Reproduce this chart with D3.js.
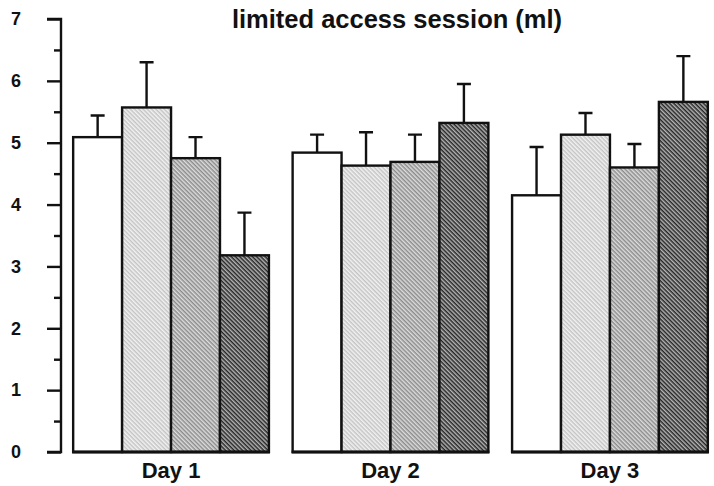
<!DOCTYPE html>
<html><head><meta charset="utf-8">
<script src="https://cdn.jsdelivr.net/npm/d3@7"></script>
<style>body{margin:0;background:#fff}svg{display:block}text{font-family:"Liberation Sans",Arial,sans-serif;font-weight:bold;fill:#111}</style>
</head><body>
<script>
const title = "limited access session (ml)";
const days = ["Day 1", "Day 2", "Day 3"];
const groups = ["g1", "g2", "g3", "g4"];
const means = [
  [5.09, 5.57, 4.75, 3.18],
  [4.84, 4.63, 4.69, 5.32],
  [4.15, 5.13, 4.60, 5.66]
];
const errTops = [
  [5.44, 6.30, 5.09, 3.87],
  [5.13, 5.17, 5.13, 5.95],
  [4.93, 5.48, 4.98, 6.40]
];
const yTicks = [0, 1, 2, 3, 4, 5, 6, 7];
const yMinorTicks = [0.5, 1.5, 2.5, 3.5, 4.5, 5.5, 6.5];

const W = 714, H = 486;
const svg = d3.select("body").append("svg").attr("width", W).attr("height", H);

const defs = svg.append("defs");
const pats = [
  null,
  {id: "p1", bg: "#f2f2f2", c: "#c4c4c4"},
  {id: "p2", bg: "#dcdcdc", c: "#8c8c8c"},
  {id: "p3", bg: "#b4b4b4", c: "#262626"}
];
const P = 3;
pats.forEach(p => {
  if (!p) return;
  const pt = defs.append("pattern").attr("id", p.id).attr("patternUnits", "userSpaceOnUse")
    .attr("width", P).attr("height", P).attr("patternTransform", "rotate(45)");
  pt.append("rect").attr("width", P).attr("height", P).attr("fill", p.bg);
  pt.append("rect").attr("width", P).attr("height", P / 2).attr("fill", p.c);
});
const fills = ["#fff", "url(#p1)", "url(#p2)", "url(#p3)"];

const y = d3.scaleLinear().domain([0, 7]).range([452, 19]);
const x0 = d3.scaleBand().domain(days).range([60, 721]).paddingInner(0.108).paddingOuter(0.06);
const x1 = d3.scaleBand().domain(groups).range([0, x0.bandwidth()]);

const SW = 2.4;
// y axis
const axisX = 61;
const yAxis = svg.append("g").attr("transform", `translate(${axisX},0)`)
  .call(d3.axisLeft(y).tickValues(yTicks).tickSize(14).tickPadding(26).tickFormat(d3.format("d")));
yAxis.select(".domain").attr("stroke", "#111").attr("stroke-width", SW);
yAxis.selectAll(".tick line").attr("stroke", "#111").attr("stroke-width", SW);
yAxis.selectAll(".tick text").attr("font-size", 18).attr("text-anchor", "end").attr("fill", "#111");
yAxis.select(".domain").attr("d", `M-14,${y(7)}H0V${y(0)}H-14`);
const yMinor = svg.append("g").attr("transform", `translate(${axisX},0)`)
  .call(d3.axisLeft(y).tickValues(yMinorTicks).tickSize(7).tickFormat(""));
yMinor.select(".domain").remove();
yMinor.selectAll(".tick line").attr("stroke", "#111").attr("stroke-width", SW);

// groups
const g = svg.selectAll(".grp").data(days).join("g").attr("class", "grp")
  .attr("transform", d => `translate(${x0(d)},0)`);

g.each(function(day, di) {
  const sel = d3.select(this);
  const data = groups.map((k, i) => ({k, i, m: means[di][i], e: errTops[di][i]}));
  sel.selectAll(".err").data(data).join("path").attr("class", "err")
    .attr("fill", "none").attr("stroke", "#111").attr("stroke-width", SW)
    .attr("d", d => {
      const cx = x1(d.k) + x1.bandwidth() / 2;
      return `M${cx},${y(d.m)}V${y(d.e)}M${cx - 7},${y(d.e)}H${cx + 7}`;
    });
  sel.selectAll(".bar").data(data).join("rect").attr("class", "bar")
    .attr("x", d => x1(d.k)).attr("width", x1.bandwidth())
    .attr("y", d => y(d.m)).attr("height", d => y(0) - y(d.m))
    .attr("fill", d => fills[d.i]).attr("stroke", "#111").attr("stroke-width", SW);
  sel.append("line").attr("x1", -1).attr("x2", x0.bandwidth() + 1)
    .attr("y1", y(0)).attr("y2", y(0)).attr("stroke", "#111").attr("stroke-width", 3);
  sel.append("text").attr("x", x0.bandwidth() / 2).attr("y", 478)
    .attr("text-anchor", "middle").attr("font-size", 22).text(day);
});

svg.append("text").attr("x", 397).attr("y", 28).attr("text-anchor", "middle")
  .attr("font-size", 25.5).text(title);
</script>
</body></html>
